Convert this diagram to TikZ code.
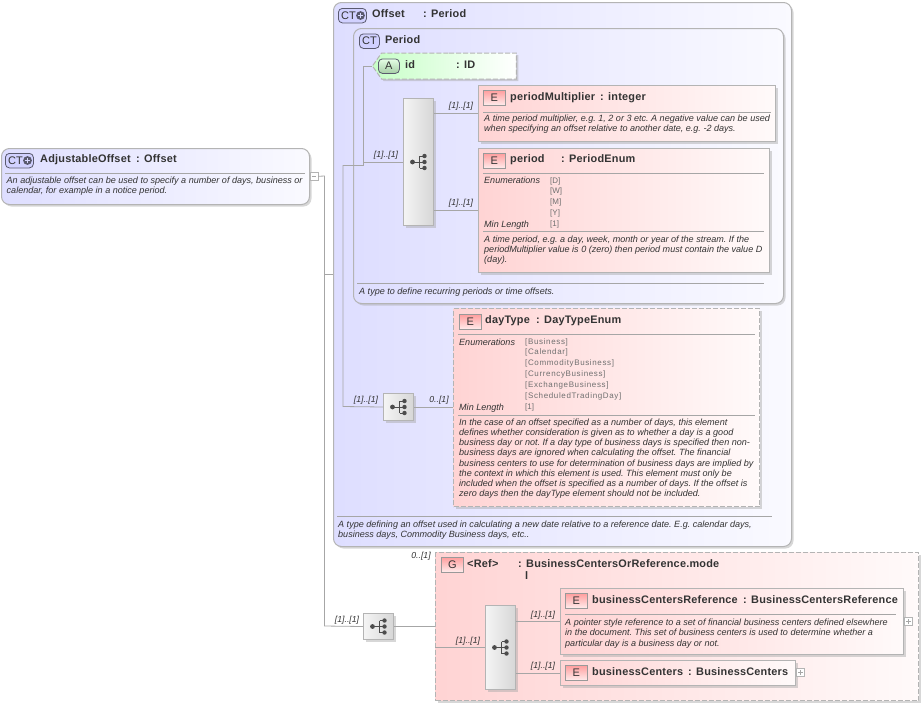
\documentclass[tikz,border=0pt]{standalone}
\usepackage{fontspec}
\setmainfont{Liberation Sans}
\usetikzlibrary{calc,positioning,shadows,shapes.symbols}
\definecolor{edgegray}{HTML}{B4B4B4}
\definecolor{linegray}{HTML}{A6A6A6}
\definecolor{titlegray}{HTML}{333333}
\definecolor{enumgray}{HTML}{707070}
\definecolor{badgeline}{HTML}{5A5A6E}
\tikzset{
  boxbase/.style={draw=edgegray, line width=1pt, anchor=north west, inner sep=0pt, drop shadow={shadow xshift=2pt, shadow yshift=-2pt, fill=black!35, opacity=.45}},
  typebox/.style={boxbase, rounded corners=8pt, left color=blue!13, right color=blue!2},
  elembox/.style={boxbase, left color=red!17, right color=red!2},
  optbox/.style={elembox, dashed, line width=1.3pt, dash pattern=on 5pt off 2pt},
  seqbox/.style={boxbase, left color=black!4, right color=black!16},
  badge/.style={draw=badgeline, line width=.8pt, inner sep=0pt, minimum height=14.5pt, text=titlegray, font=\fontsize{11}{12}\selectfont, anchor=north west},
  ctbadge/.style={badge, rounded corners=4pt, fill=blue!18, minimum width=20pt, align=left},
  ebadge/.style={badge, draw=black!40, top color=red!38, bottom color=red!8, minimum width=22pt},
  abadge/.style={badge, rounded corners=4pt, top color=green!10, bottom color=green!45!black!35, minimum width=21pt},
  ttl/.style={anchor=base west, inner sep=0pt, text=titlegray, font=\bfseries\fontsize{10.9}{12}\selectfont\addfontfeatures{LetterSpace=2}},
  desc/.style={anchor=north west, inner sep=0pt, align=left, text=titlegray, font=\frenchspacing\itshape\fontsize{9.05}{10.2}\selectfont},
  enumval/.style={anchor=north west, inner sep=0pt, align=left, text=enumgray, font=\fontsize{8}{10.8}\selectfont},
  card/.style={inner sep=0pt, text=titlegray, font=\itshape\fontsize{8.7}{10}\selectfont},
  rulerline/.style={draw=linegray, line width=.8pt},
  conn/.style={draw=linegray, line width=.8pt},
  expander/.style={draw=edgegray, line width=.6pt, fill=white, minimum size=8pt, inner sep=0pt, anchor=north west},
  seqicon/.pic={
    \fill[black!70] (-6,0) circle (2.4pt) (6,-6) circle (2.2pt) (6,0) circle (2.2pt) (6,6) circle (2.2pt);
    \draw[black!70, line width=.9pt] (-6,0) -- (1,0) (1,-6) -- (1,6) (1,-6) -- (6,-6) (1,0) -- (6,0) (1,6) -- (6,6);
  },
  plusmark/.pic={
    \fill[badgeline] (0,0) circle (4.4pt);
    \draw[white!85!blue, line width=1.1pt] (-2.6,0) -- (2.6,0) (0,-2.6) -- (0,2.6);
  },
}
\begin{document}
\begin{tikzpicture}[x=1pt,y=-1pt]
\useasboundingbox (0,0) rectangle (923,705);
\node[typebox, minimum width=308pt, minimum height=56pt] (adjustable) at (1,148) {};
\node[typebox, minimum width=458pt, minimum height=544pt] (offset) at (333,2) {};
\node[typebox, minimum width=430pt, minimum height=275pt] (period) at (353,28) {};
\node[boxbase, signal, signal to=west, signal pointer angle=110, dashed, dash pattern=on 5pt off 2pt, left color=green!22, right color=white, minimum width=144pt, minimum height=26pt, anchor=center] (idattr) at (449,66) {};
\node[elembox, minimum width=297pt, minimum height=56pt] (multiplier) at (478,85) {};
\node[elembox, minimum width=291pt, minimum height=124pt] (periodelem) at (478,148) {};
\node[seqbox, minimum width=30pt, minimum height=127pt] (seqperiod) at (403,98) {};
\node[optbox, minimum width=306pt, minimum height=198pt] (daytype) at (453,308) {};
\node[seqbox, minimum width=30pt, minimum height=27pt] (seqoffset) at (383,393) {};
\node[optbox, minimum width=483pt, minimum height=148pt] (group) at (435,552) {};
\node[seqbox, minimum width=30pt, minimum height=26pt] (seqtop) at (363,613) {};
\node[seqbox, minimum width=30pt, minimum height=84pt] (seqgroup) at (485,605) {};
\node[elembox, minimum width=343pt, minimum height=66pt] (centersref) at (560,588) {};
\node[elembox, minimum width=235pt, minimum height=25pt] (centers) at (560,660) {};
\node[expander] (minusadj) at (309.5,172) {};
\node[expander] (plusref) at (904,617) {};
\node[expander] (pluscenters) at (796,668) {};
\draw[rulerline] ($(minusadj.west)+(2,0)$) -- ($(minusadj.east)+(-2,0)$);
\draw[rulerline] ($(plusref.west)+(2,0)$) -- ($(plusref.east)+(-2,0)$) ($(plusref.north)+(0,2)$) -- ($(plusref.south)+(0,-2)$);
\draw[rulerline] ($(pluscenters.west)+(2,0)$) -- ($(pluscenters.east)+(-2,0)$) ($(pluscenters.north)+(0,2)$) -- ($(pluscenters.south)+(0,-2)$);
\coordinate (trunk) at (324.5,176);
\coordinate (trunkend) at (324.5,626);
\coordinate (inner) at (343,165);
\coordinate (innerend) at (343,406.5);
\coordinate (branch) at (363,165);
\coordinate (groupin) at (435,647);
\draw[conn] (minusadj.east) -- (trunk) -- (trunkend) -- (seqtop.west);
\draw[conn] (trunk |- offset.west) -- (offset.west);
\draw[conn] (inner) -- (innerend) -- (seqoffset.west);
\draw[conn] (inner) -- (branch) |- (idattr.west);
\draw[conn] (branch |- seqperiod.west) -- (seqperiod.west);
\draw[conn] (seqperiod.east |- multiplier.west) -- (multiplier.west);
\draw[conn] (seqperiod.east |- periodelem.west) -- (periodelem.west);
\draw[conn] (seqoffset.east) -- (seqoffset.east -| daytype.west);
\draw[conn] (seqtop.east) -- (seqtop.east -| group.west);
\draw[conn] (groupin) -- (groupin -| seqgroup.west);
\draw[conn] (seqgroup.east |- centersref.west) -- (centersref.west);
\draw[conn] (seqgroup.east |- centers.west) -- (centers.west);
\pic at (seqperiod.center) {seqicon};
\pic at (seqoffset.center) {seqicon};
\pic at (seqtop.center) {seqicon};
\pic at (seqgroup.center) {seqicon};
\node[ctbadge, minimum width=28pt, text width=26pt] (badgeadj) at (5,153) {\,CT};
\pic at (27.5,160.5) {plusmark};
\node[ctbadge, minimum width=28pt, text width=26pt] (badgeoffset) at (338,8) {\,CT};
\pic at (360.5,15.5) {plusmark};
\node[ctbadge] (badgeperiod) at (359,33.5) {CT};
\node[abadge] (badgeid) at (378,58.5) {A};
\node[ebadge] (badgemult) at (483,90) {E};
\node[ebadge] (badgeelem) at (483,153) {E};
\node[ebadge] (badgeday) at (459,314) {E};
\node[ebadge] (badgegroup) at (441,557) {G};
\node[ebadge] (badgeref) at (565,593) {E};
\node[ebadge] (badgecenters) at (565,665) {E};
\node[ttl] (titleadj) at (40,162) {AdjustableOffset};
\node[ttl] (typeadj) at (136,162) {: Offset};
\node[ttl] (titleoffset) at (372,17.5) {Offset};
\node[ttl] (typeoffset) at (423,17.5) {: Period};
\node[ttl] (titleperiod) at (385,43) {Period};
\node[ttl] (titleid) at (405,68) {id};
\node[ttl] (typeid) at (456,68) {: ID};
\node[ttl] (titlemult) at (510,100) {periodMultiplier};
\node[ttl] (typemult) at (600,100) {: integer};
\node[ttl] (titleelem) at (510,162) {period};
\node[ttl] (typeelem) at (561,162) {: PeriodEnum};
\node[ttl] (titleday) at (485,323.5) {dayType};
\node[ttl] (typeday) at (536,323.5) {: DayTypeEnum};
\node[ttl] (titlegroup) at (467,567) {<Ref>};
\node[ttl] (typegroup) at (518,567) {: BusinessCentersOrReference.mode};
\node[ttl] (typegroupend) at (525,579.5) {l};
\node[ttl] (titleref) at (592,603) {businessCentersReference};
\node[ttl] (typeref) at (743,603) {: BusinessCentersReference};
\node[ttl] (titlecenters) at (592,675) {businessCenters};
\node[ttl] (typecenters) at (688,675) {: BusinessCenters};
\draw[rulerline] (5,173) -- (305,173);
\draw[rulerline] (483,112) -- (771,112);
\draw[rulerline] (483,173) -- (764,173);
\draw[rulerline] (483,231) -- (764,231);
\draw[rulerline] (357,283) -- (764,283);
\draw[rulerline] (458,334.5) -- (755,334.5);
\draw[rulerline] (458,415) -- (755,415);
\draw[rulerline] (337,516) -- (772,516);
\draw[rulerline] (565,614) -- (896,614);
\node[desc] (descadj) at (6.5,177) {An adjustable offset can be used to specify a number of days, business or\\calendar, for example in a notice period.};
\node[desc] (descmult) at (484,115) {A time period multiplier, e.g. 1, 2 or 3 etc. A negative value can be used\\when specifying an offset relative to another date, e.g. -2 days.};
\node[desc] (labelenum) at (484,177) {Enumerations};
\node[enumval] (valenum) at (550,177) {{[D]}\\{[W]}\\{[M]}\\{[Y]}};
\node[desc] (labelmin) at (484,221) {Min Length};
\node[enumval] (valmin) at (550,220.5) {{[1]}};
\node[desc] (descelem) at (484,235.5) {A time period, e.g. a day, week, month or year of the stream. If the\\periodMultiplier value is 0 (zero) then period must contain the value D\\(day).};
\node[desc] (descperiod) at (359,288) {A type to define recurring periods or time offsets.};
\node[desc] (labelday) at (459,339) {Enumerations};
\node[enumval, font=\fontsize{8}{10.8}\selectfont\addfontfeatures{LetterSpace=8}] (valday) at (525,338) {{[Business]}\\{[Calendar]}\\{[CommodityBusiness]}\\{[CurrencyBusiness]}\\{[ExchangeBusiness]}\\{[ScheduledTradingDay]}};
\node[desc] (labeldaymin) at (459,404) {Min Length};
\node[enumval] (valdaymin) at (525,403) {{[1]}};
\node[desc] (descday) at (459,418.5) {In the case of an offset specified as a number of days, this element\\defines whether consideration is given as to whether a day is a good\\business day or not. If a day type of business days is specified then non-\\business days are ignored when calculating the offset. The financial\\business centers to use for determination of business days are implied by\\the context in which this element is used. This element must only be\\included when the offset is specified as a number of days. If the offset is\\zero days then the dayType element should not be included.};
\node[desc] (descoffset) at (338,520.5) {A type defining an offset used in calculating a new date relative to a reference date. E.g. calendar days,\\business days, Commodity Business days, etc..};
\node[desc] (descref) at (565,619) {A pointer style reference to a set of financial business centers defined elsewhere\\in the document. This set of business centers is used to determine whether a\\particular day is a business day or not.};
\node[card] (cardA) at (386,155.5) {{[1]..[1]}};
\node[card] (cardB) at (461,106.5) {{[1]..[1]}};
\node[card] (cardC) at (461,203.5) {{[1]..[1]}};
\node[card] (cardD) at (366,400.5) {{[1]..[1]}};
\node[card] (cardE) at (439,400.5) {0..[1]};
\node[card] (cardF) at (421,556.5) {0..[1]};
\node[card] (cardG) at (347,620.5) {{[1]..[1]}};
\node[card] (cardH) at (468,641.5) {{[1]..[1]}};
\node[card] (cardI) at (543,615.5) {{[1]..[1]}};
\node[card] (cardJ) at (543,666.5) {{[1]..[1]}};
\end{tikzpicture}
\end{document}
